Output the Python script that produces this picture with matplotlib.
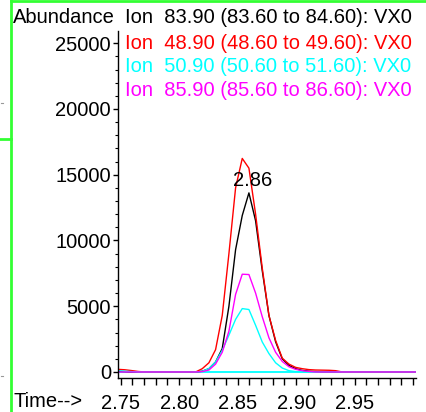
import matplotlib
matplotlib.use("Agg")
import matplotlib.pyplot as plt
from matplotlib.ticker import MultipleLocator, FixedLocator, FixedFormatter

plt.rcParams['font.family'] = ['Liberation Sans', 'DejaVu Sans']

# ---- data ----
times = [2.7477, 2.7534, 2.7591, 2.7648, 2.7705, 2.8140, 2.8197, 2.8254, 2.8311,
         2.8368, 2.8425, 2.8482, 2.8539, 2.8596, 2.8653, 2.8710, 2.8767, 2.8824,
         2.8881, 2.8938, 2.8995, 2.9052, 2.9109, 2.9166, 2.9223, 2.9280, 2.9337,
         2.9394, 3.0024]
ion_83_9 = [50, 30, 0, 0, 0, 0, 60, 250, 760, 1780, 5000, 9300, 11900, 13620, 11500,
            7700, 4300, 2300, 1000, 500, 250, 120, 60, 30, 0, 0, 0, 0, 0]
ion_48_9 = [200, 170, 110, 40, 0, 0, 250, 700, 1700, 4300, 9000, 14000, 16240, 15500,
            12000, 7900, 4300, 2400, 1050, 600, 350, 250, 180, 150, 140, 130, 100, 0, 0]
ion_50_9 = [100, 60, 30, 0, 0, 0, 50, 260, 760, 1650, 2800, 4000, 4820, 4750, 3550,
            2280, 1400, 700, 300, 100, 30, 0, 0, 0, 0, 0, 0, 0, 0]
ion_85_9 = [0, 0, 0, 0, 0, 0, 30, 150, 600, 1500, 3100, 5900, 7435, 7410, 6000, 4200,
            2600, 1500, 800, 400, 200, 100, 40, 0, 0, 0, 0, 0, 0]
baseline_t = [2.7477, 3.0024]
baseline_v = [0, 0]

legend_labels = ["Ion  83.90 (83.60 to 84.60): VX0",
                 "Ion  48.90 (48.60 to 49.60): VX0",
                 "Ion  50.90 (50.60 to 51.60): VX0",
                 "Ion  85.90 (85.60 to 86.60): VX0"]
colors = ["black", "#ff0000", "#00ffff", "#ff00ff"]
peak_label = "2.86"
peak_time = 2.8625
peak_value = 14550
x_tick_vals = [2.75, 2.80, 2.85, 2.90, 2.95]
x_tick_labels = ["2.75", "2.80", "2.85", "2.90", "2.95"]
y_tick_vals = [0, 5000, 10000, 15000, 20000, 25000]

FS = 14.5
W, H = 426, 412
fig = plt.figure(figsize=(W / 100, H / 100), dpi=100)
ax = fig.add_axes([118 / W, 1 - 378.3 / H, (416 - 118) / W, (378.3 - 31) / H])

ax.plot(baseline_t, baseline_v, color="#00ffff", lw=1.3)
series = [ion_83_9, ion_48_9, ion_50_9, ion_85_9]
for vals, c in zip(series, colors):
    ax.plot(times, vals, color=c, lw=1.0)

ax.set_xlim(2.7477, 3.0024)
ax.set_ylim(-480, 25930)

for s in ["top", "right"]:
    ax.spines[s].set_visible(False)
for s in ["left", "bottom"]:
    ax.spines[s].set_linewidth(1.0)

ax.xaxis.set_major_locator(FixedLocator(x_tick_vals))
ax.xaxis.set_major_formatter(FixedFormatter(x_tick_labels))
ax.xaxis.set_minor_locator(MultipleLocator(0.01))
ax.yaxis.set_major_locator(FixedLocator(y_tick_vals))
ax.yaxis.set_minor_locator(MultipleLocator(1000))

ax.tick_params(axis="x", which="both", direction="out", length=5, width=1.0,
               labelsize=FS, pad=6)
ax.tick_params(axis="y", which="major", direction="out", length=3.5, width=1.0,
               labelsize=FS, pad=1.5)
ax.tick_params(axis="y", which="minor", direction="out", length=2, width=0.8)

ax.text(peak_time, peak_value, peak_label, fontsize=FS, ha="center", va="center")

# header texts
fig.text(13 / W, 1 - 17.5 / H, "Abundance", fontsize=FS, ha="left", va="center")
ys = [17.5, 43.3, 67, 90.3]
for lab, c, y in zip(legend_labels, colors, ys):
    fig.text(125 / W, 1 - y / H, lab, fontsize=FS, color=c, ha="left", va="center")
fig.text(13 / W, 1 - 401.7 / H, "Time-->", fontsize=FS, ha="left", va="center")

# green frame lines
green = "#33ff33"
fig.add_artist(plt.Line2D([11.3 / W, 11.3 / W], [0, 1], color=green, lw=2,
                          transform=fig.transFigure))
fig.add_artist(plt.Line2D([11.3 / W, 1], [1 - 0.8 / H, 1 - 0.8 / H], color=green, lw=2,
                          transform=fig.transFigure))
fig.add_artist(plt.Line2D([0, 11.3 / W], [1 - 139 / H, 1 - 139 / H], color=green, lw=2,
                          transform=fig.transFigure))
# small gray marks at the far left edge
for yy in [103, 376]:
    fig.add_artist(plt.Line2D([0.5 / W, 2.5 / W], [1 - yy / H, 1 - yy / H], color="#999999",
                              lw=0.8, transform=fig.transFigure))

fig.savefig("out.png", dpi=100)
